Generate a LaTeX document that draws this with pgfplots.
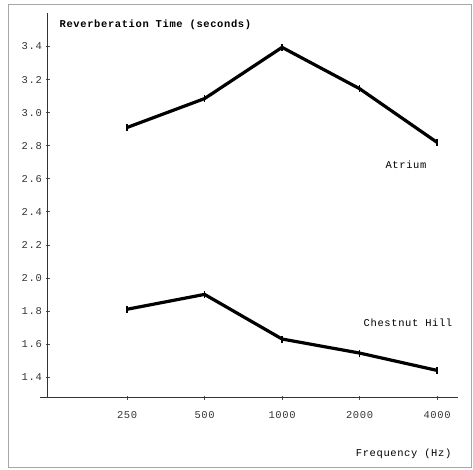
\documentclass[border=0pt]{standalone}
\usepackage{fontspec}
\setmainfont{Liberation Mono}[LetterSpace=6]
\usepackage{pgfplots}
\pgfplotsset{compat=1.18}
\begin{document}
\fontsize{10.5}{12}\selectfont
\begin{tikzpicture}
\path (0,0) rectangle (473bp,470bp);
\draw[gray!70, line width=1bp] (8bp,2bp) rectangle (471bp,465bp);
\begin{axis}[
  at={(48bp,72bp)}, anchor=south west,
  scale only axis, width=410bp, height=385bp,
  xmin=-1.02, xmax=4.27, ymin=1.273, ymax=3.603,
  axis lines=left, axis line style={-, line width=1bp, black!80},
  xtick={0,1,2,3,4}, xticklabels={250,500,1000,2000,4000},
  ytick={1.4,1.6,1.8,2.0,2.2,2.4,2.6,2.8,3.0,3.2,3.4},
  yticklabel style={/pgf/number format/fixed, /pgf/number format/fixed zerofill, /pgf/number format/precision=1, xshift=-1bp},
  /pgf/number format/assume math mode=true,
  tick label style={font=\fontsize{10.5}{12}\selectfont, text=black!80},
  major tick length=3bp, tick style={black!70, line width=0.6bp},
  xticklabel style={yshift=-8bp},
  clip=false,
]
\addplot[black, line width=3.2bp, mark=|, mark size=3.5bp, mark options={line width=1.2bp}]
  coordinates {(0,2.91) (1,3.085) (2,3.395) (3,3.145) (4,2.82)};
\addplot[black, line width=3.2bp, mark=|, mark size=3.5bp, mark options={line width=1.2bp}]
  coordinates {(0,1.81) (1,1.90) (2,1.63) (3,1.545) (4,1.44)};
\end{axis}
\draw[black!80, line width=1bp] (40bp,72bp) -- (48bp,72bp);
\node[anchor=west, font=\fontsize{10.5}{12}\selectfont\bfseries] at (56bp,445bp) {Reverberation Time (seconds)};
\node[font=\fontsize{10.5}{12}\selectfont] at (406bp,305bp) {Atrium};
\node[font=\fontsize{10.5}{12}\selectfont] at (408bp,147bp) {Chestnut Hill};
\node[anchor=east, font=\fontsize{10.5}{12}\selectfont] at (455bp,16bp) {Frequency (Hz)};
\end{tikzpicture}
\end{document}
